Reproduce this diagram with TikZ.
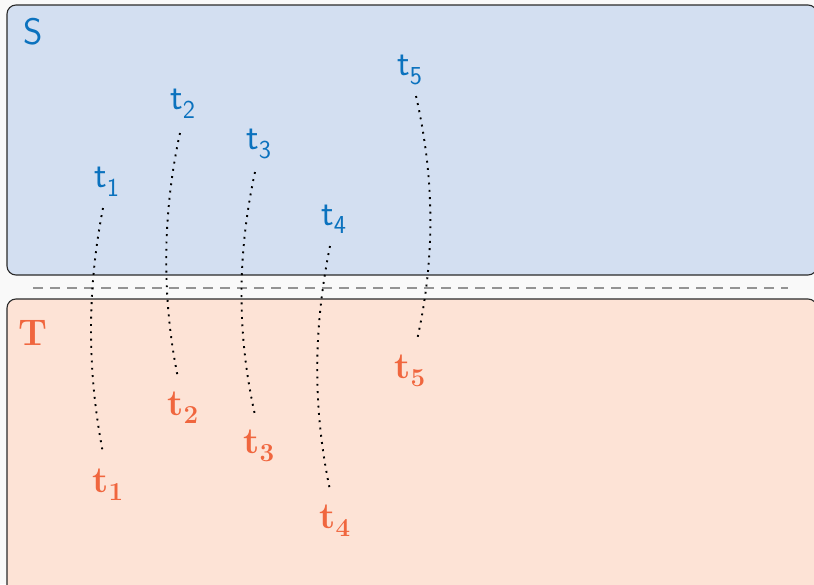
\documentclass[tikz,border=0pt]{standalone}
\definecolor{bgc}{HTML}{F9F9F9}
\definecolor{sfill}{HTML}{D3DFF1}
\definecolor{tfill}{HTML}{FDE3D6}
\definecolor{sblue}{HTML}{0B72BE}
\definecolor{torange}{HTML}{F0663E}
\definecolor{edgec}{HTML}{2A2A2A}
\tikzset{
  region/.style={draw=edgec, line width=1.1pt, rounded corners=9pt},
  slab/.style={text=sblue, font=\fontsize{37}{44}\selectfont\sffamily, inner sep=0pt},
  tlab/.style={text=torange, font=\fontsize{37}{44}\selectfont\bfseries, inner sep=0pt},
  conn/.style={line width=1.9pt, dash pattern=on 1.9pt off 5.4pt, black},
  sep/.style={draw=gray!85, line width=1.8pt, dash pattern=on 10pt off 7pt},
}
\begin{document}
\begin{tikzpicture}[x=1pt,y=-1pt]
\useasboundingbox (0,0) rectangle (814,584);
\fill[bgc] (0,0) rectangle (814,584);
\begin{scope}
\clip (0,0) rectangle (814,584);
\draw[region, fill=sfill] (7,5) rectangle (817,275);
\draw[region, fill=tfill] (7,299) rectangle (817,600);
\end{scope}
\draw[sep] (33,288) -- (788,288);
\node[slab] (S) at (33,32) {S};
\node[tlab] (T) at (33,333) {T};
% top labels
\node[slab] (s1) at (107,182) {t\textsubscript{1}};
\node[slab] (s2) at (183,104) {t\textsubscript{2}};
\node[slab] (s3) at (259,144) {t\textsubscript{3}};
\node[slab] (s4) at (334,219) {t\textsubscript{4}};
\node[slab] (s5) at (410,70) {t\textsubscript{5}};
% bottom labels
\node[tlab] (b1) at (108,485) {t\textsubscript{1}};
\node[tlab] (b2) at (183,408) {t\textsubscript{2}};
\node[tlab] (b3) at (259,446) {t\textsubscript{3}};
\node[tlab] (b4) at (335,521) {t\textsubscript{4}};
\node[tlab] (b5) at (410,371) {t\textsubscript{5}};
% connector ends
\coordinate (s1e) at (103,208); \coordinate (b1e) at (103,453);
\coordinate (s2e) at (180,133); \coordinate (b2e) at (178,378);
\coordinate (s3e) at (255,172); \coordinate (b3e) at (255,415);
\coordinate (s4e) at (330,246); \coordinate (b4e) at (330,490);
\coordinate (s5e) at (416,96);  \coordinate (b5e) at (417,340);
\draw[conn] (s1e) .. controls (87,290) and (87,370) .. (b1e);
\draw[conn] (s2e) .. controls (162,215) and (162,300) .. (b2e);
\draw[conn] (s3e) .. controls (237,255) and (237,335) .. (b3e);
\draw[conn] (s4e) .. controls (313,330) and (313,410) .. (b4e);
\draw[conn] (s5e) .. controls (435,180) and (435,260) .. (b5e);
\end{tikzpicture}
\end{document}
